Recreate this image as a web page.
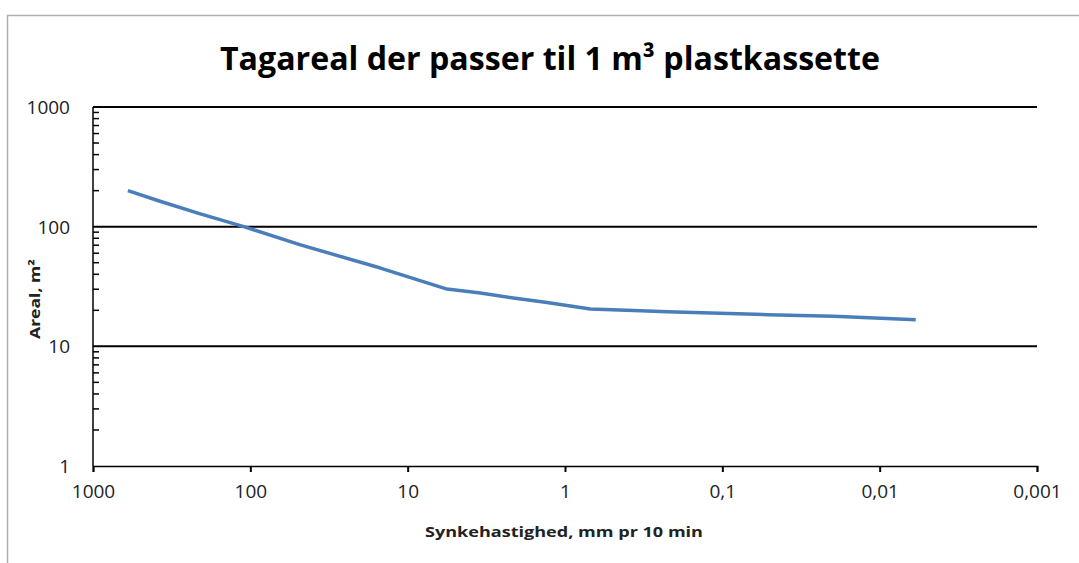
<!DOCTYPE html>
<html>
<head>
<meta charset="utf-8">
<script src="https://cdn.jsdelivr.net/npm/d3@7"></script>
<style>
  body { margin: 0; background: #fff; }
  text { font-family: "Open Sans", "Liberation Sans", sans-serif; }
</style>
</head>
<body>
<div id="chart"></div>
<script>
// Synkehastighed (mm pr 10 min) and matching tagareal (m2)
const speed = [600, 375, 208, 110, 48, 14.9, 5.62, 3.45, 2.13, 1.3, 0.69, 0.33, 0.224, 0.0518, 0.0196, 0.0059];
const area = [200, 163, 128, 100, 70.5, 45.1, 30.1, 27.9, 25.3, 23.2, 20.5, 19.8, 19.5, 18.4, 17.8, 16.7];
const xTicks = [1000, 100, 10, 1, 0.1, 0.01, 0.001];
const xTickLabels = ["1000", "100", "10", "1", "0,1", "0,01", "0,001"];
const yTicks = [1, 10, 100, 1000];

const width = 1079;
const height = 563;
const margin = { top: 107, right: 42, bottom: 97, left: 93 };

const svg = d3
  .select("#chart")
  .append("svg")
  .attr("width", width)
  .attr("height", height);

// outer chart frame
svg
  .append("rect")
  .attr("x", 7.5)
  .attr("y", 15.5)
  .attr("width", width + 20)
  .attr("height", height + 20)
  .attr("fill", "none")
  .attr("stroke", "#b0b0b0")
  .attr("stroke-width", 1.5);

// scales (x is reversed: large speeds on the left)
const x = d3
  .scaleLog()
  .domain([1000, 0.001])
  .range([margin.left, width - margin.right]);

const y = d3
  .scaleLog()
  .domain([1, 1000])
  .range([height - margin.bottom, margin.top]);

// gridlines at the decades
svg
  .append("g")
  .selectAll("line")
  .data(yTicks.slice(1))
  .join("line")
  .attr("x1", margin.left)
  .attr("x2", width - margin.right)
  .attr("y1", (d) => y(d))
  .attr("y2", (d) => y(d))
  .attr("stroke", "#000")
  .attr("stroke-width", 2);

// y minor ticks, pointing into the plot
const minor = [];
for (let dec = 1; dec < 1000; dec *= 10) {
  for (let k = 2; k <= 9; k++) minor.push(dec * k);
}
svg
  .append("g")
  .selectAll("line")
  .data(minor)
  .join("line")
  .attr("x1", margin.left)
  .attr("x2", margin.left + 6)
  .attr("y1", (d) => y(d))
  .attr("y2", (d) => y(d))
  .attr("stroke", "#000")
  .attr("stroke-width", 1.5);

// y axis line
svg
  .append("line")
  .attr("x1", margin.left)
  .attr("x2", margin.left)
  .attr("y1", y(1000))
  .attr("y2", y(1))
  .attr("stroke", "#000")
  .attr("stroke-width", 1.5);

// y labels
svg
  .append("g")
  .selectAll("text")
  .data(yTicks)
  .join("text")
  .attr("x", 70)
  .attr("y", (d) => y(d))
  .attr("dy", "0.36em")
  .attr("text-anchor", "end")
  .attr("font-size", 19)
  .attr("fill", "#222")
  .text((d) => d);

// x axis
const xAxis = d3
  .axisBottom(x)
  .tickValues(xTicks)
  .tickSize(6)
  .tickFormat((d, i) => xTickLabels[i]);

const gx = svg
  .append("g")
  .attr("transform", `translate(0,${y(1)})`)
  .call(xAxis);
gx.select(".domain").attr("stroke", "#000").attr("stroke-width", 1.5);
gx.selectAll(".tick line").attr("stroke", "#000").attr("stroke-width", 2);
gx.selectAll(".tick text")
  .attr("font-size", 19)
  .attr("font-family", "Open Sans, sans-serif")
  .attr("fill", "#222")
  .attr("y", 25)
  .attr("dy", "0.36em");

// data line
const line = d3
  .line()
  .x((d, i) => x(speed[i]))
  .y((d) => y(d));

svg
  .append("path")
  .datum(area)
  .attr("d", line)
  .attr("fill", "none")
  .attr("stroke", "#4a7ebb")
  .attr("stroke-width", 3.5)
  .attr("stroke-linejoin", "round")
  .attr("stroke-linecap", "butt");

// title
svg
  .append("text")
  .attr("x", 550)
  .attr("y", 70)
  .attr("text-anchor", "middle")
  .attr("font-size", 33)
  .attr("font-weight", "bold")
  .attr("textLength", 660)
  .attr("lengthAdjust", "spacingAndGlyphs")
  .text("Tagareal der passer til 1 m³ plastkassette");

// axis titles
svg
  .append("text")
  .attr("x", 564)
  .attr("y", 537)
  .attr("text-anchor", "middle")
  .attr("font-size", 15)
  .attr("font-weight", "bold")
  .attr("fill", "#222")
  .attr("textLength", 278)
  .attr("lengthAdjust", "spacingAndGlyphs")
  .text("Synkehastighed, mm pr 10 min");

svg
  .append("text")
  .attr("transform", "translate(40,299) rotate(-90)")
  .attr("text-anchor", "middle")
  .attr("font-size", 14)
  .attr("font-weight", "bold")
  .attr("fill", "#222")
  .attr("textLength", 80)
  .attr("lengthAdjust", "spacingAndGlyphs")
  .text("Areal, m²");
</script>
</body>
</html>
